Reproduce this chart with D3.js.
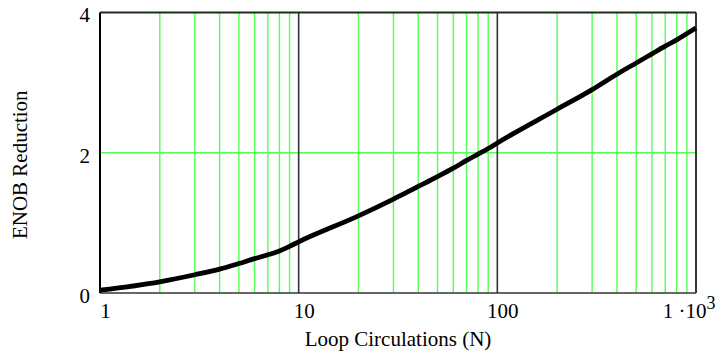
<!DOCTYPE html>
<html>
<head>
<meta charset="utf-8">
<script src="https://cdn.jsdelivr.net/npm/d3@7"></script>
<style>
  html, body { margin: 0; padding: 0; background: #fff; }
  svg { display: block; }
  text { font-family: "Liberation Serif", "Times New Roman", serif; }
</style>
</head>
<body>
<svg id="chart" width="720" height="352"></svg>
<script>
// ---- data ----
const loopN = [1,2,3,4,5,6,7,8,9,10,20,30,40,50,60,70,80,90,100,200,300,400,500,600,700,800,900,1000];
const enobReduction = [0.04,0.16,0.26,0.34,0.42,0.49,0.545,0.60,0.665,0.73,1.10,1.34,1.52,1.66,1.78,1.89,1.98,2.06,2.14,2.62,2.90,3.12,3.28,3.41,3.52,3.61,3.70,3.78];
const xTicks = [1, 10, 100, 1000];
const xTickLabels = ["1", "10", "100", "1 ·10^3"];
const yTicks = [0, 2, 4];
const yTickLabels = ["0", "2", "4"];
const xTitle = "Loop Circulations (N)";
const yTitle = "ENOB Reduction";

// ---- layout ----
const FONT = "Liberation Serif";
const FS = 21;
const L = 100, R = 696, T = 12.5, B = 293;
const svg = d3.select("#chart");
const x = d3.scaleLog().domain([1, 1000]).range([L, R]);
const y = d3.scaleLinear().domain([0, 4]).range([B, T]);

// minor grid (green)
const minor = [];
for (let d = 1; d < 1000; d *= 10) for (let k = 2; k <= 9; k++) minor.push(d * k);
svg.append("g").selectAll("line").data(minor).join("line")
  .attr("x1", d => x(d)).attr("x2", d => x(d))
  .attr("y1", T).attr("y2", B)
  .attr("stroke", "#55ff55").attr("stroke-width", 1.4);
// horizontal grid
svg.append("g").selectAll("line").data(yTicks.filter(v => v > 0 && v < 4)).join("line")
  .attr("x1", L).attr("x2", R)
  .attr("y1", d => y(d)).attr("y2", d => y(d))
  .attr("stroke", "#55ff55").attr("stroke-width", 1.4);
// decade lines (dark)
svg.append("g").selectAll("line").data([10, 100]).join("line")
  .attr("x1", d => x(d)).attr("x2", d => x(d))
  .attr("y1", T).attr("y2", B)
  .attr("stroke", "#333").attr("stroke-width", 1.6);

// borders
svg.append("line").attr("x1", L).attr("x2", R).attr("y1", T).attr("y2", T)
  .attr("stroke", "#1a2e1a").attr("stroke-width", 2.2);
svg.append("line").attr("x1", R).attr("x2", R).attr("y1", T).attr("y2", B)
  .attr("stroke", "#222").attr("stroke-width", 1.8);
svg.append("line").attr("x1", L).attr("x2", R).attr("y1", B).attr("y2", B)
  .attr("stroke", "#333").attr("stroke-width", 1.4);
svg.append("line").attr("x1", L).attr("x2", L).attr("y1", T).attr("y2", B)
  .attr("stroke", "#000").attr("stroke-width", 2);

// curve
const line = d3.line().x(d => x(d[0])).y(d => y(d[1])).curve(d3.curveMonotoneX);
svg.append("path")
  .datum(loopN.map((n, i) => [n, enobReduction[i]]))
  .attr("d", line)
  .attr("fill", "none").attr("stroke", "#000").attr("stroke-width", 4.8)
  .attr("stroke-linejoin", "round");

// x axis labels
const xAxis = d3.axisBottom(x).tickValues(xTicks).tickSize(0).tickPadding(10)
  .tickFormat((d, i) => xTickLabels[i]);
const gx = svg.append("g").attr("transform", `translate(0,${B})`).call(xAxis)
  .attr("font-family", FONT).attr("font-size", FS);
gx.select(".domain").remove();
gx.selectAll("text")
  .attr("fill", "#000")
  .each(function(d, i) {
    const t = d3.select(this);
    const lab = xTickLabels[i];
    if (lab.includes("^")) {
      const [base, exp] = lab.split("^");
      t.text(null).attr("text-anchor", "end").attr("x", 19);
      t.append("tspan").text(base);
      t.append("tspan").text(exp).attr("dy", "-0.5em").attr("font-size", 18);
    } else {
      t.attr("x", 5);
    }
  });

// y axis labels
const yAxis = d3.axisLeft(y).tickValues(yTicks).tickSize(0).tickPadding(10)
  .tickFormat((d, i) => yTickLabels[i]);
const gy = svg.append("g").attr("transform", `translate(${L},0)`).call(yAxis)
  .attr("font-family", FONT).attr("font-size", FS);
gy.select(".domain").remove();
gy.selectAll("text").attr("fill", "#000").attr("dy", "0.45em");

// titles
svg.append("text").attr("x", (L + R) / 2).attr("y", 346)
  .attr("text-anchor", "middle").attr("font-family", FONT).attr("font-size", FS).text(xTitle);
svg.append("text")
  .attr("transform", `translate(27,${(T + B) / 2 + 12}) rotate(-90)`)
  .attr("text-anchor", "middle").attr("font-family", FONT).attr("font-size", FS).text(yTitle);
</script>
</body>
</html>
